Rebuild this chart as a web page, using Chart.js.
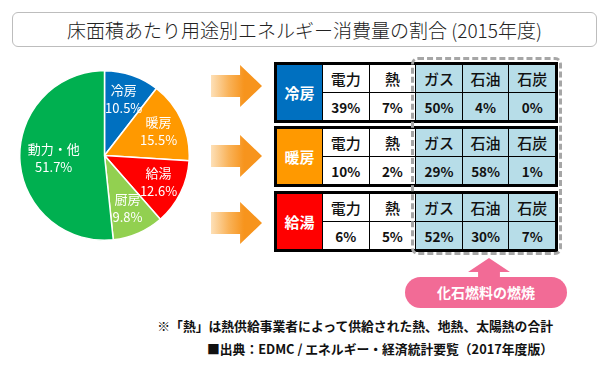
<!DOCTYPE html>
<html><head><meta charset="utf-8">
<script src="https://cdn.jsdelivr.net/npm/chart.js@4"></script>
<style>
html,body{margin:0;padding:0;background:#fff;}
body{width:610px;height:370px;position:relative;overflow:hidden;font-family:"Noto Sans CJK JP","Noto Sans",sans-serif;}
#title{position:absolute;left:12px;top:12px;width:585px;height:35px;box-sizing:border-box;border:1px solid #bdbdbd;border-radius:6px;
 font-size:19px;line-height:33px;text-align:center;color:#222;font-weight:300;}
#pie{position:absolute;left:19px;top:70px;}
.arrow{position:absolute;left:211px;width:51px;height:42px;
 clip-path:polygon(0 24%,57% 24%,57% 0,100% 50%,57% 100%,57% 76%,0 76%);
 background:linear-gradient(to right,#fde0b8 0%,#f9b258 35%,#f7941d 65%,#f7941d 100%);}
.tbl{position:absolute;left:274px;width:284px;height:61px;box-sizing:border-box;border:3px solid #000;background:#000;
 display:grid;grid-template-columns:45px repeat(5,1fr);grid-template-rows:1fr 1fr;gap:1px;}
.tbl div{display:flex;align-items:center;justify-content:center;background:#fff;color:#111;font-weight:700;}
.tbl .lab{grid-row:1 / span 2;color:#fff;font-size:15px;}
.tbl .hd{font-size:15px;font-weight:500;}
.tbl .val{font-size:13.5px;}
.tbl .fossil{background:#b7dde8;}
#dash{position:absolute;left:411px;top:57px;width:151px;height:198px;box-sizing:border-box;border:3px dashed #a6a6a6;border-radius:7px;z-index:5;}
#uparrow{position:absolute;left:468px;top:258px;width:42px;height:20px;background:#f26b96;
 clip-path:polygon(50% 0,100% 70%,76% 70%,76% 100%,24% 100%,24% 70%,0 70%);}
#pill{position:absolute;left:405px;top:277px;width:162px;height:31px;border-radius:16px;background:#f26b96;color:#fff;
 font-weight:700;font-size:14px;line-height:31px;text-align:center;}
.note{position:absolute;right:57px;font-weight:700;font-size:12.8px;color:#111;white-space:nowrap;}
</style></head>
<body>
<div id="title">床面積あたり用途別エネルギー消費量の割合 (2015年度)</div>
<canvas id="pie" width="171" height="171"></canvas>
<div id="tables"></div>
<div id="dash"></div>
<div id="uparrow"></div>
<div id="pill">化石燃料の燃焼</div>
<div class="note" style="top:316px;">※「熱」は熱供給事業者によって供給された熱、地熱、太陽熱の合計</div>
<div class="note" style="top:339px;">■出典：EDMC / エネルギー・経済統計要覧（2017年度版）</div>
<script>
// ---- data ----
const categories = ["冷房", "暖房", "給湯", "厨房", "動力・他"];
const shares = [10.5, 15.5, 12.6, 9.8, 51.7];
const useCases = ["冷房", "暖房", "給湯"];
const sources = ["電力", "熱", "ガス", "石油", "石炭"];
const coolingMix = [39, 7, 50, 4, 0];
const heatingMix = [10, 2, 29, 58, 1];
const hotWaterMix = [6, 5, 52, 30, 7];

// ---- styles ----
const sliceColors = ["#0070c0", "#ff9900", "#ff0000", "#92d050", "#00b050"];
const labelRadius = [0.7, 0.7, 0.71, 0.68, 0.6];
const fossilFrom = 2;

const labelPlugin = {
  id: "sliceLabels",
  afterDatasetsDraw(chart) {
    const ctx = chart.ctx;
    const meta = chart.getDatasetMeta(0);
    ctx.save();
    ctx.fillStyle = "#fff";
    ctx.textAlign = "center";
    ctx.textBaseline = "middle";
    ctx.font = "13px 'Noto Sans CJK JP', sans-serif";
    meta.data.forEach((arc, i) => {
      const p = arc.getProps(["x", "y", "startAngle", "endAngle", "outerRadius"], true);
      const a = (p.startAngle + p.endAngle) / 2;
      const r = p.outerRadius * labelRadius[i];
      const x = p.x + Math.cos(a) * r, y = p.y + Math.sin(a) * r;
      ctx.fillText(chart.data.labels[i], x, y - 9);
      ctx.fillText(chart.data.datasets[0].data[i].toFixed(1) + "%", x, y + 9);
    });
    ctx.restore();
  }
};

new Chart(document.getElementById("pie"), {
  type: "pie",
  data: { labels: categories, datasets: [{ data: shares, backgroundColor: sliceColors, borderColor: "#fff", borderWidth: 1.5 }] },
  options: {
    responsive: false, animation: false,
    layout: { padding: 0 },
    plugins: { legend: { display: false }, tooltip: { enabled: false } }
  },
  plugins: [labelPlugin]
});

// ---- tables + arrows ----
const mixes = [coolingMix, heatingMix, hotWaterMix];
const tableTops = [62, 126, 191];
const arrowTops = [65, 135, 202];
const labelColors = ["#0070c0", "#ff9900", "#ff0000"];
const holder = document.getElementById("tables");
useCases.forEach((u, k) => {
  const ar = document.createElement("div");
  ar.className = "arrow"; ar.style.top = arrowTops[k] + "px";
  holder.appendChild(ar);
  const t = document.createElement("div");
  t.className = "tbl"; t.style.top = tableTops[k] + "px";
  const lab = document.createElement("div");
  lab.className = "lab"; lab.textContent = u; lab.style.background = labelColors[k];
  t.appendChild(lab);
  sources.forEach((s, j) => {
    const c = document.createElement("div");
    c.className = "hd" + (j >= fossilFrom ? " fossil" : "");
    c.textContent = s; t.appendChild(c);
  });
  mixes[k].forEach((v, j) => {
    const c = document.createElement("div");
    c.className = "val" + (j >= fossilFrom ? " fossil" : "");
    c.textContent = v + "%"; t.appendChild(c);
  });
  holder.appendChild(t);
});
</script>
</body></html>
